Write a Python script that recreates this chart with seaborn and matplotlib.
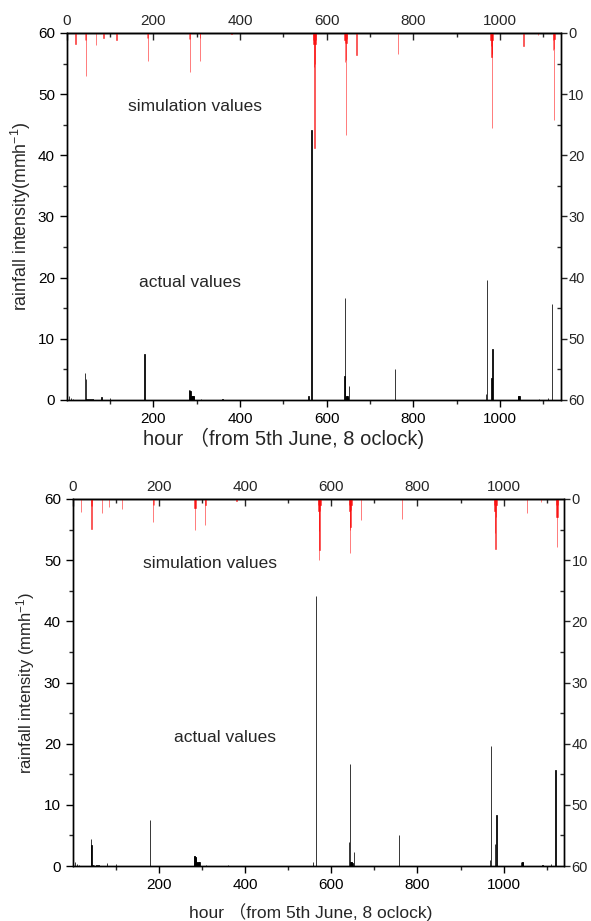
import numpy as np
import pandas as pd
import matplotlib
matplotlib.use("Agg")
import matplotlib.pyplot as plt
import seaborn as sns

# ---------------- data ----------------
actual_hours = [5, 10, 15, 42, 44, 46, 50, 55, 60, 80, 100, 180,
                282, 283, 284, 285, 286, 287, 288, 289, 290, 291, 292, 293, 294,
                310, 360, 558, 565, 641, 643, 645, 646, 647, 648, 649, 652,
                757, 968, 970, 980, 983, 1041, 1042, 1043, 1044, 1045, 1090, 1110, 1120]
actual_vals = [0.6, 0.3, 0.2, 4.4, 3.5, 0.2, 0.2, 0.2, 0.15, 0.5, 0.4, 7.5,
               1.7, 1.6, 1.6, 1.5, 1.4, 0.7, 0.7, 0.7, 0.7, 0.7, 0.7, 0.6, 0.6,
               0.2, 0.1, 0.7, 44.2, 4.0, 16.7, 0.7, 0.7, 0.6, 0.6, 0.5, 2.3,
               5.0, 1.0, 19.6, 3.6, 8.3, 0.7, 0.7, 0.7, 0.6, 0.6, 0.2, 0.3, 15.7]

sim_hours = [20, 43, 44, 45, 68, 85, 115, 186, 187, 188, 283, 284, 285, 307, 308, 380,
             569, 570, 571, 572, 573, 574, 575,
             641, 642, 643, 644, 645, 646, 647,
             669, 764, 978, 979, 980, 981, 982, 983, 1054, 1087,
             1122, 1123, 1124, 1125, 1126]
sim_top = [1.8, 1.1, 7.0, 1.1, 2.0, 0.8, 1.1, 0.8, 4.6, 0.8, 1.0, 6.3, 1.0, 4.6, 0.8, 0.2,
           1.2, 1.8, 5.5, 18.8, 5.0, 1.8, 1.2,
           1.2, 1.6, 4.7, 16.7, 4.5, 1.6, 1.0,
           3.6, 3.5, 1.2, 2.2, 3.9, 15.5, 3.5, 1.2, 2.2, 0.3,
           1.2, 2.8, 14.3, 2.6, 1.0]
sim_bottom = [2.2, 1.2, 4.9, 1.2, 2.3, 1.3, 1.7, 1.0, 3.7, 1.0, 1.5, 5.1, 1.5, 4.2, 1.0, 0.3,
              1.0, 2.0, 5.3, 10.0, 8.3, 2.0, 1.0,
              1.0, 2.0, 5.0, 8.8, 4.5, 1.8, 1.0,
              3.4, 3.3, 1.0, 2.0, 5.5, 8.1, 3.0, 1.0, 2.3, 0.5,
              1.0, 3.0, 7.9, 3.0, 1.0]

top_ticks = [0, 200, 400, 600, 800, 1000]
bottom_ticks = [200, 400, 600, 800, 1000]
minor_x = [100, 300, 500, 700, 900, 1100]
left_ticks = [0, 10, 20, 30, 40, 50, 60]
right_ticks = [0, 10, 20, 30, 40, 50, 60]

xlabel = "hour \uff08from 5th June, 8 oclock)"
ylabels = [r"rainfall intensity(mmh$^{-1}$)", r"rainfall intensity (mmh$^{-1}$)"]

df_act = pd.DataFrame({"hour": actual_hours, "value": actual_vals})
df_sim = [pd.DataFrame({"hour": sim_hours, "value": sim_top}),
          pd.DataFrame({"hour": sim_hours, "value": sim_bottom})]

# ---------------- style ----------------
sns.set_style("ticks")
plt.rcParams["font.family"] = ["Liberation Sans", "Noto Sans CJK SC", "DejaVu Sans"]
plt.rcParams["mathtext.default"] = "regular"
plt.rcParams["mathtext.fontset"] = "custom"
plt.rcParams["mathtext.rm"] = "Liberation Sans"
plt.rcParams["mathtext.it"] = "Liberation Sans"

fig = plt.figure(figsize=(5.91, 9.21), dpi=100)
positions = [
    [0.1128, 0.5657, 0.8359, 0.3985],
    [0.1230, 0.0597, 0.8313, 0.3985],
]
text_pos = [((296, 47.9), (285, 19.2)), ((319, 49.4), (354, 21.0))]
xlabel_cfg = [(0.44, -0.104, 14.5), (0.484, -0.125, 12.5)]
ylabel_cfg = [(-0.068, 12.8), (-0.073, 12.0)]

for i, pos in enumerate(positions):
    ax = fig.add_axes(pos)
    sns.barplot(data=df_act, x="hour", y="value", native_scale=True, width=0.8,
                color="black", edgecolor="black", linewidth=0.55, errorbar=None, ax=ax)
    ax.set_xlim(0, 1140)
    ax.set_ylim(0, 60)
    ax.set_xticks(bottom_ticks)
    ax.set_xticks(minor_x, minor=True)
    ax.set_yticks(left_ticks)
    ax.set_yticks([5, 15, 25, 35, 45, 55], minor=True)
    ax.tick_params(axis="both", which="major", direction="out", length=5, width=1,
                   labelsize=11, colors="black")
    ax.tick_params(axis="both", which="minor", direction="out", length=3, width=1)
    lx, ly, lsize = xlabel_cfg[i]
    ax.set_xlabel(xlabel, fontsize=lsize)
    ax.xaxis.set_label_coords(lx, ly)
    ax.xaxis.label.set_va("center")
    yx, ysize = ylabel_cfg[i]
    ax.set_ylabel(ylabels[i], fontsize=ysize)
    ax.yaxis.set_label_coords(yx, 0.5)

    ax2 = ax.twinx()
    sns.barplot(data=df_sim[i], x="hour", y="value", native_scale=True, width=0.8,
                color="red", edgecolor="red", linewidth=0.6, alpha=0.6,
                errorbar=None, ax=ax2)
    ax2.set_ylim(60, 0)
    ax2.set_xlim(0, 1140)
    ax2.set_yticks(right_ticks)
    ax2.set_yticks([5, 15, 25, 35, 45, 55], minor=True)
    ax2.set_ylabel("")
    ax2.set_xlabel("")
    ax2.tick_params(axis="y", which="major", direction="out", length=4, width=1,
                    labelsize=10.5, pad=1.5)
    ax2.tick_params(axis="y", which="minor", direction="in", length=3, width=1)

    sec = ax.secondary_xaxis("top")
    sec.set_xticks(top_ticks)
    sec.set_xticks(minor_x, minor=True)
    sec.tick_params(axis="x", which="major", direction="in", length=5, width=1, labelsize=11)
    sec.tick_params(axis="x", which="minor", direction="in", length=3, width=1)

    for a in (ax, ax2):
        for s in a.spines.values():
            s.set_visible(True)
            s.set_linewidth(1.0)
            s.set_color("black")
    for s in sec.spines.values():
        s.set_linewidth(1.0)

    (sx, sy), (axx, ayy) = text_pos[i]
    ax.text(sx, sy, "simulation values", fontsize=12.5, ha="center", va="center")
    ax.text(axx, ayy, "actual values", fontsize=12.5, ha="center", va="center")

fig.savefig("out.png", dpi=100)
